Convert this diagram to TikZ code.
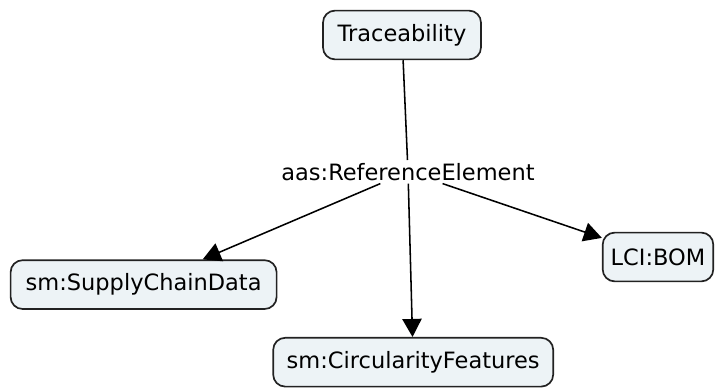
\documentclass[tikz,border=0pt]{standalone}
\usepackage{fontspec}
\setsansfont{DejaVu Sans}
\usepackage{xcolor}
\usetikzlibrary{positioning,arrows.meta}

\definecolor{conceptfill}{HTML}{EDF3F6}
\definecolor{conceptline}{HTML}{222222}

\begin{document}
\begin{tikzpicture}[font=\sffamily\fontsize{16}{19}\selectfont,
    concept/.style={draw=conceptline, fill=conceptfill, line width=1.2pt,
        rounded corners=0.3cm, minimum height=1.22cm, inner xsep=0.2cm, align=center},
    link/.style={line width=1.1pt, draw=black},
    linkarrow/.style={link, -{Triangle[length=0.45cm, width=0.48cm]}}]
% Concept map: traceability reference elements
\useasboundingbox (0,0) rectangle (18.075,9.725);

% Concepts
\node[concept, minimum width=3.95cm] (trace) at (10.05,8.85) {Traceability};
\node[inner sep=2pt] (refel) at (10.2,5.43) {aas:ReferenceElement};
\node[concept, minimum width=6.65cm] (supply) at (3.59,2.61) {sm:SupplyChainData};
\node[concept, minimum width=2.75cm] (bom) at (16.45,3.3) {LCI:BOM};
\node[concept, minimum width=7.0cm] (circ) at (10.33,0.67) {sm:CircularityFeatures};

% Links
\draw[link] (trace) -- (refel);
\draw[linkarrow] (refel) -- (supply);
\draw[linkarrow] (refel) -- (circ);
\draw[linkarrow] (refel) -- (bom);
\end{tikzpicture}
\end{document}
